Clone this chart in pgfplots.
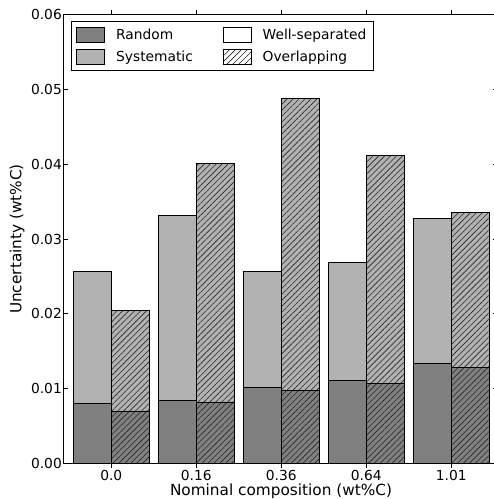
\documentclass[border=0pt]{standalone}
\usepackage{fontspec}
\setmainfont{DejaVu Sans}
\usepackage{pgfplots}
\pgfplotsset{compat=1.18}
\usetikzlibrary{patterns.meta}
\definecolor{darkg}{gray}{0.5}
\definecolor{lightg}{gray}{0.7}
\tikzset{hatch/.style={postaction={pattern={Lines[angle=45,distance=4.2pt,line width=0.6pt]},pattern color=black!85}}}
\pgfplotsset{myleg/.style={legend image code/.code={\draw[##1,draw=black,line width=0.8pt] (0pt,-7.5pt) rectangle (28pt,7.5pt);}}}
\begin{document}
\begin{tikzpicture}
\begin{axis}[
  scale only axis, width=434pt, height=448.6pt,
  xmin=-0.556, xmax=4.55, ymin=0, ymax=0.06,
  ytick={0,0.01,0.02,0.03,0.04,0.05,0.06},
  xtick={0,1,2,3,4}, xticklabels={0.0,0.16,0.36,0.64,1.01},
  tick align=inside, major tick length=4.5pt,
  tick style={black, line width=0.8pt},
  axis line style={line width=1pt},
  yticklabel style={/pgf/number format/fixed,/pgf/number format/fixed zerofill,/pgf/number format/precision=2, inner xsep=2pt},
  xticklabel style={anchor=base, yshift=-12.9pt, inner sep=0pt},
  scaled y ticks=false,
  /pgf/number format/assume math mode=true,
  ticklabel style={font=\fontsize{13.8}{16}\selectfont},
  label style={font=\fontsize{15.3}{18}\selectfont},
  xlabel={Nominal composition (wt\%C)},
  ylabel={Uncertainty (wt\%C)},
  xlabel style={at={([yshift=-31.8pt]axis description cs:0.5,0)}, anchor=base, inner sep=0pt},
  ylabel style={at={([xshift=-42.7pt]axis description cs:0,0.5)}, anchor=base},
  ybar, bar width=0.45,
  legend columns=2,
  legend cell align=left,
  legend style={at={(0.016,0.986)}, anchor=north west, draw=black, line width=0.8pt,
    font=\fontsize{13.8}{16}\selectfont,
    inner xsep=5pt, inner ysep=5.5pt,
    /tikz/column 1/.style={column sep=9pt},
    /tikz/column 2/.style={column sep=28pt},
    /tikz/column 3/.style={column sep=9pt},
    row sep=6pt},
]
\addlegendimage{myleg, fill=darkg}
\addlegendentry{Random}
\addlegendimage{myleg, fill=white}
\addlegendentry{Well-separated}
\addlegendimage{myleg, fill=lightg}
\addlegendentry{Systematic}
\addlegendimage{myleg, fill=white, hatch}
\addlegendentry{Overlapping}

% well-separated: total (random+systematic), then random
\addplot[forget plot, bar shift=-0.225, fill=lightg, draw=black, line width=0.8pt]
  coordinates {(0,0.0256) (1,0.0332) (2,0.0257) (3,0.0269) (4,0.0328)};
\addplot[forget plot, bar shift=-0.225, fill=darkg, draw=black, line width=0.8pt]
  coordinates {(0,0.0080) (1,0.0084) (2,0.0102) (3,0.0111) (4,0.0134)};
% overlapping
\addplot[forget plot, bar shift=0.225, fill=lightg, draw=black, line width=0.8pt, hatch]
  coordinates {(0,0.0205) (1,0.0401) (2,0.0488) (3,0.0412) (4,0.0336)};
\addplot[forget plot, bar shift=0.225, fill=darkg, draw=black, line width=0.8pt, hatch]
  coordinates {(0,0.0070) (1,0.0082) (2,0.0098) (3,0.0107) (4,0.0128)};
\coordinate (o) at (rel axis cs:0,0);
\end{axis}
\pgfresetboundingbox
\useasboundingbox (o) ++(-64pt,-35.7pt) rectangle ++(494pt,499pt);
\end{tikzpicture}
\end{document}
